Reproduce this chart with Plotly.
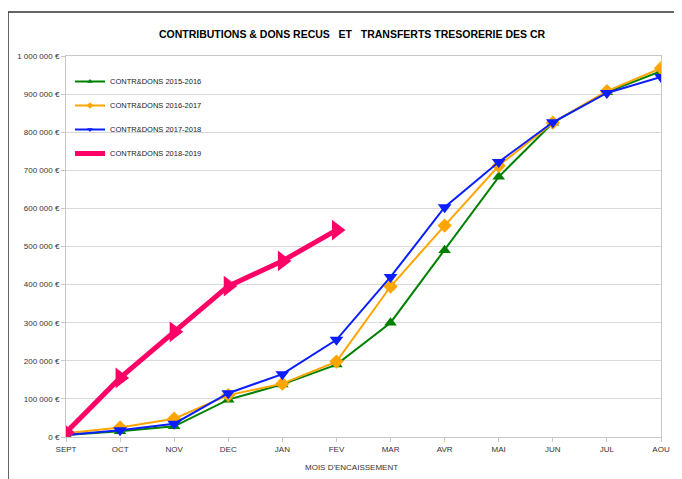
import plotly.graph_objects as go

months = ["SEPT", "OCT", "NOV", "DEC", "JAN", "FEV", "MAR", "AVR", "MAI", "JUN", "JUL", "AOU"]
s2015 = [5000, 15000, 28000, 98000, 138000, 190000, 300000, 490000, 683000, 825000, 905000, 960000]
s2016 = [10000, 25000, 48000, 110000, 140000, 198000, 395000, 555000, 712000, 825000, 908000, 968000]
s2017 = [5000, 18000, 35000, 115000, 165000, 255000, 420000, 603000, 722000, 826000, 903000, 945000]
s2018 = [12000, 155000, 276000, 396000, 462000, 543000]
names = ["CONTR&DONS 2015-2016", "CONTR&DONS 2016-2017", "CONTR&DONS 2017-2018", "CONTR&DONS 2018-2019"]
ytick_vals = [0, 100000, 200000, 300000, 400000, 500000, 600000, 700000, 800000, 900000, 1000000]
ytick_text = ["0 €", "100 000 €", "200 000 €", "300 000 €", "400 000 €", "500 000 €",
              "600 000 €", "700 000 €", "800 000 €", "900 000 €", "1 000 000 €"]

colors = ["#008000", "#FFA500", "#0A1EFF", "#FF0066"]
symbols = ["triangle-up", "diamond", "triangle-down", "triangle-right"]
sizes = [11, 11, 12, 18]
widths = [2, 2, 2, 5]
series = [s2015, s2016, s2017, s2018]

fig = go.Figure()
for i, s in enumerate(series):
    fig.add_trace(go.Scatter(x=months[:len(s)], y=s, name=names[i], mode="lines+markers",
                             legendgroup=f"g{i}", showlegend=False,
                             line=dict(color=colors[i], width=widths[i]),
                             marker=dict(symbol=symbols[i], size=sizes[i], color=colors[i])))
# legend-only entries with small symbols, as in the reference legend
for i in range(4):
    fig.add_trace(go.Scatter(x=[None], y=[None], name=names[i], mode="lines+markers",
                             legendgroup=f"g{i}", showlegend=True,
                             line=dict(color=colors[i], width=widths[i]),
                             marker=dict(symbol=symbols[i], size=5 if i < 3 else 1, color=colors[i])))

# page offset: the browser body has an 8px margin
OFF = 8
W, H = 682 - OFF, 479 - OFF
l, r, t, b = 66 - OFF, 21, 56 - OFF, 42
pw, ph = W - l - r, H - t - b

def px(xp):
    return (xp - OFF - l) / pw

def py(yp):
    return (H - b - (yp - OFF)) / ph

fig.update_layout(
    width=W, height=H,
    margin=dict(l=l, r=r, t=t, b=b, autoexpand=False),
    paper_bgcolor="white", plot_bgcolor="white",
    font=dict(family="Liberation Sans, Arial, sans-serif", size=8, color="#333333"),
    title=dict(text="<b>CONTRIBUTIONS &amp; DONS RECUS   ET   TRANSFERTS TRESORERIE DES CR</b>",
               x=(352 - OFF) / W, xref="container", xanchor="center", y=1 - (34 - OFF) / H, yanchor="middle",
               font=dict(size=10.5, color="black")),
    showlegend=True,
    legend=dict(x=px(70), y=py(67), xanchor="left", yanchor="top",
                bgcolor="rgba(0,0,0,0)", font=dict(size=7.5, color="#222222"),
                tracegroupgap=5, itemwidth=30),
    xaxis=dict(type="category", range=[0, 11], showgrid=False,
               showline=True, linecolor="#c8c8c8", mirror=True,
               ticks="outside", ticklen=4, tickcolor="#c8c8c8",
               tickfont=dict(size=8, color="#333333")),
    yaxis=dict(range=[0, 1000000], tickvals=ytick_vals, ticktext=ytick_text,
               showgrid=True, gridcolor="#d9d9d9", gridwidth=1,
               showline=True, linecolor="#c8c8c8", mirror=True,
               ticks="outside", ticklen=4, tickcolor="#c8c8c8",
               tickfont=dict(size=8, color="#333333"), zeroline=False),
    annotations=[dict(text="MOIS D'ENCAISSEMENT", xref="paper", yref="paper",
                      x=px(351), y=py(467), xanchor="center", yanchor="middle",
                      showarrow=False, font=dict(size=8, color="#333333"))],
    shapes=[dict(type="rect", xref="paper", yref="paper",
                 x0=px(8), y0=py(495), x1=px(700), y1=py(12),
                 line=dict(color="#333333", width=1.5), fillcolor="rgba(0,0,0,0)", layer="below")],
)

fig.write_html("out.html")
